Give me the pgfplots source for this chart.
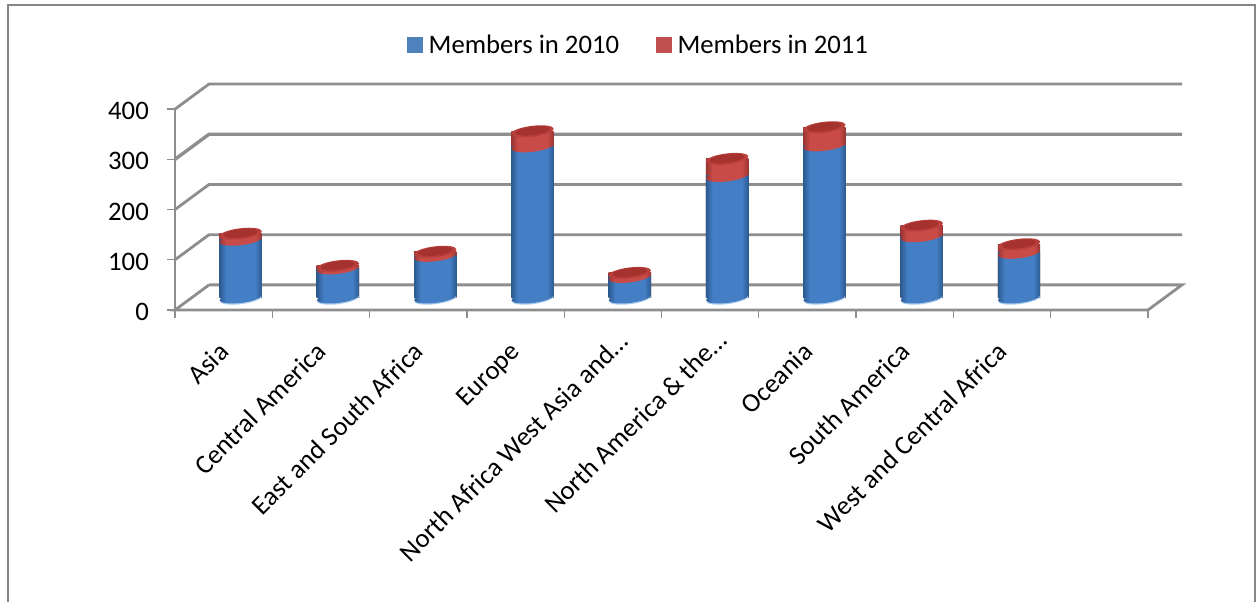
\documentclass[border=0pt]{standalone}
\usepackage{pgfplots}
\pgfplotsset{compat=1.18}
\usepackage{pgfplotstable}
\usepackage{fontspec}
\setmainfont{Carlito}

\definecolor{gridgrey}{HTML}{8E8E8E}
\definecolor{framegrey}{HTML}{868686}
\definecolor{keyblue}{HTML}{4F81BD}
\definecolor{keyred}{HTML}{C0504D}
\definecolor{bluedark}{HTML}{2C5A90}
\definecolor{bluemid}{HTML}{447FC6}
\definecolor{reddark}{HTML}{9A3532}
\definecolor{redmid}{HTML}{C94B47}
\definecolor{capouter}{HTML}{B83F3B}
\definecolor{capinner}{HTML}{A5322F}
\definecolor{baserim}{HTML}{A9CBEC}

% Round shading across each cylinder: dark rims and a broad lit middle
\pgfdeclarehorizontalshading{cylblue}{100bp}{color(0bp)=(bluedark); color(25bp)=(bluedark); color(33bp)=(bluemid); color(67bp)=(bluemid); color(75bp)=(bluedark); color(100bp)=(bluedark)}
\pgfdeclarehorizontalshading{cylred}{100bp}{color(0bp)=(reddark); color(25bp)=(reddark); color(33bp)=(redmid); color(67bp)=(redmid); color(75bp)=(reddark); color(100bp)=(reddark)}

% Elliptical ends of the cylinders, tilted a little as in a perspective view
\pgfdeclareplotmark{cylbase}{%
  \pgfpathellipse{\pgfpoint{0pt}{-1.2pt}}{\pgfpoint{21pt}{2.6pt}}{\pgfpoint{-0.7pt}{5.4pt}}%
  \pgfsetfillcolor{baserim}\pgfusepathqfill
  \pgfpathellipse{\pgfpointorigin}{\pgfpoint{21pt}{2.6pt}}{\pgfpoint{-0.7pt}{5.4pt}}%
  \pgfshadepath{cylblue}{0}\pgfusepath{discard}}
\pgfdeclareplotmark{cylseam}{%
  \pgfpathellipse{\pgfpointorigin}{\pgfpoint{21.2pt}{2.6pt}}{\pgfpoint{-0.7pt}{5.4pt}}%
  \pgfshadepath{cylred}{0}\pgfusepath{discard}}
\pgfdeclareplotmark{cyltop}{%
  \pgfpathellipse{\pgfpointorigin}{\pgfpoint{21.2pt}{2.6pt}}{\pgfpoint{-0.7pt}{5.4pt}}%
  \pgfsetfillcolor{capouter}\pgfusepathqfill
  \pgfpathellipse{\pgfpoint{0pt}{0.4pt}}{\pgfpoint{17pt}{2.1pt}}{\pgfpoint{-0.6pt}{4.2pt}}%
  \pgfsetfillcolor{capinner}\pgfusepathqfill}

\pgfplotstableread{
pos  m2010 m2011 total zero
0.5  115   12    127   0
1.5  58    5     63    0
2.5  83    8     91    0
3.5  301   30    331   0
4.5  41    8     49    0
5.5  242   34    276   0
6.5  303   36    339   0
7.5  122   21    143   0
8.5  89    17    106   0
}\members

\pgfplotsset{
  room/.style={
    scale only axis, width=1007pt, height=226pt,
    xmin=0, xmax=10.35, ymin=0, ymax=450,
    anchor=south west, clip=false},
  wall/.style={draw=gridgrey, line width=2.8pt, line join=miter, no markers, forget plot},
  cylinder/.style={ybar, bar width=42.4pt, bar shift=0pt, draw=none, forget plot}
}

\begin{document}
\begin{tikzpicture}[x=1pt,y=1pt]
\path[use as bounding box, fill=white] (0,0) rectangle (1257,602);
\draw[framegrey, line width=2pt] (8,0) -- (8,596.5) -- (1255,596.5) -- (1255,0);

% Floor, side wall and back wall of the chart room
\begin{axis}[room, at={(175pt,292pt)},
    axis x line*=bottom, axis y line*=left,
    axis line style={draw=none},
    tick align=outside, tickwidth=8pt,
    tick style={draw=gridgrey, line width=1.3pt},
    xtick={0,1,2,3,4,5,6,7,8,9,10}, xticklabels={},
    extra x ticks={0.5,1.5,2.5,3.5,4.5,5.5,6.5,7.5,8.5},
    extra x tick labels={Asia,Central America,East and South Africa,Europe,North Africa West Asia and\dots\hspace*{-14pt},North America \& the\dots\hspace*{-16pt},Oceania,South America,West and Central Africa},
    extra x tick style={tickwidth=0pt,
      xticklabel style={rotate=45, anchor=north east, inner sep=0pt, xshift=-26pt, yshift=-17pt,
        font=\fontsize{26.7}{30}\selectfont}},
    ytick={0,100,200,300,400},
    yticklabel style={font=\fontsize{26.7}{30}\selectfont, inner sep=0pt, xshift=-18pt, yshift=-2pt},
    /pgf/number format/assume math mode=true]
  \addplot[wall] coordinates {(0,0) (0,400)};
  \addplot[wall] coordinates {(0.35,50) (0,0) (10,0) (10.35,50) (0.35,50)};
  \addplot[wall] coordinates {(0,100) (0.35,150) (10.35,150)};
  \addplot[wall] coordinates {(0,200) (0.35,250) (10.35,250)};
  \addplot[wall, line width=3.4pt] coordinates {(0,300) (0.35,350) (10.35,350)};
  \addplot[wall] coordinates {(0,400) (0.35,450) (10.35,450)};
\end{axis}

% Cylinders, standing mid-way between the front edge and the back wall;
% the total column is the top of the 2011 part stacked on the 2010 part
\begin{axis}[room, at={(192pt,304.5pt)}, hide axis,
    legend style={at={(0.4435,1.117)}, anchor=center, draw=none, fill=none,
      font=\fontsize{26.7}{30}\selectfont, legend columns=2,
      /tikz/every odd column/.append style={column sep=4pt},
      /tikz/every even column/.append style={column sep=35pt}}]
  \addplot[only marks, mark=cylbase, forget plot] table[x=pos, y=zero] {\members};
  \pgfplotsinvokeforeach{0,1,2,3,4,5,6,7,8}{
    \addplot[cylinder, shade, shading=cylred,
      restrict x to domain=#1.1:#1.9] table[x=pos, y=total] {\members};
    \addplot[cylinder, shade, shading=cylblue,
      restrict x to domain=#1.1:#1.9] table[x=pos, y=m2010] {\members};
  }
  \addplot[only marks, mark=cylseam, forget plot] table[x=pos, y=m2010] {\members};
  \addplot[only marks, mark=cyltop, forget plot] table[x=pos, y=total] {\members};
  \addlegendimage{legend image code/.code={\fill[keyblue] (0pt,-7.5pt) rectangle (15pt,7.5pt);}}
  \addlegendentry{Members in 2010}
  \addlegendimage{legend image code/.code={\fill[keyred] (0pt,-7.5pt) rectangle (15pt,7.5pt);}}
  \addlegendentry{Members in 2011}
\end{axis}
\end{tikzpicture}
\end{document}
